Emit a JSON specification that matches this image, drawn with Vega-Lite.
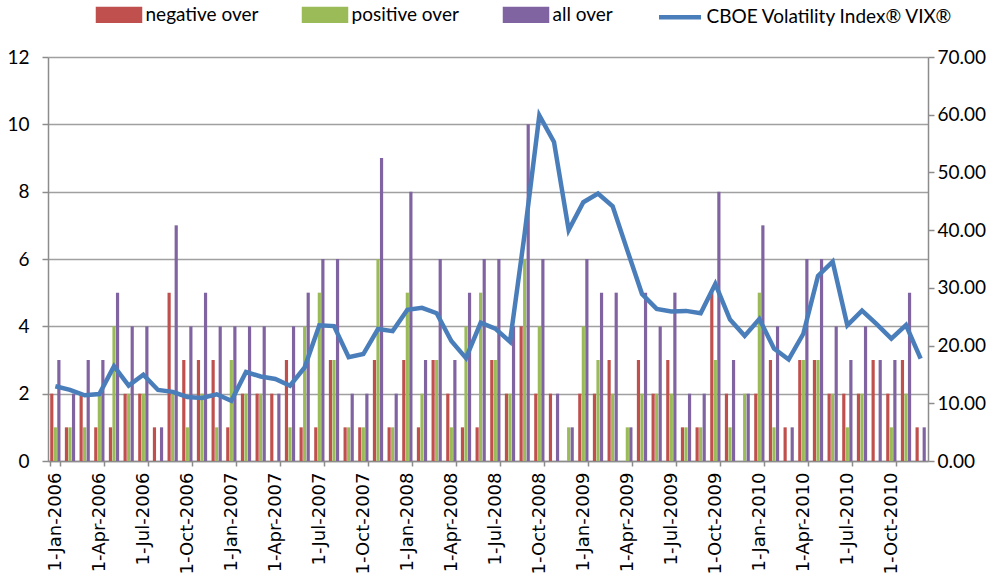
{
  "$schema": "https://vega.github.io/schema/vega-lite/v6.json",
  "width": 880,
  "height": 404,
  "autosize": "none",
  "padding": {"left": 48, "top": 57, "right": 79, "bottom": 116},
  "background": "white",
  "config": {
    "view": {"stroke": null},
    "font": "Lato"
  },
  "data": {
    "values": [
      {"month": "1-Jan-2006", "negative over": 2, "positive over": 1, "all over": 3, "vix": 12.95},
      {"month": "1-Feb-2006", "negative over": 1, "positive over": 1, "all over": 2, "vix": 12.34},
      {"month": "1-Mar-2006", "negative over": 2, "positive over": 1, "all over": 3, "vix": 11.39},
      {"month": "1-Apr-2006", "negative over": 1, "positive over": 2, "all over": 3, "vix": 11.59},
      {"month": "1-May-2006", "negative over": 1, "positive over": 4, "all over": 5, "vix": 16.44},
      {"month": "1-Jun-2006", "negative over": 2, "positive over": 2, "all over": 4, "vix": 13.08},
      {"month": "1-Jul-2006", "negative over": 2, "positive over": 2, "all over": 4, "vix": 14.95},
      {"month": "1-Aug-2006", "negative over": 1, "positive over": 0, "all over": 1, "vix": 12.31},
      {"month": "1-Sep-2006", "negative over": 5, "positive over": 2, "all over": 7, "vix": 11.98},
      {"month": "1-Oct-2006", "negative over": 3, "positive over": 1, "all over": 4, "vix": 11.10},
      {"month": "1-Nov-2006", "negative over": 3, "positive over": 2, "all over": 5, "vix": 10.91},
      {"month": "1-Dec-2006", "negative over": 3, "positive over": 1, "all over": 4, "vix": 11.56},
      {"month": "1-Jan-2007", "negative over": 1, "positive over": 3, "all over": 4, "vix": 10.42},
      {"month": "1-Feb-2007", "negative over": 2, "positive over": 2, "all over": 4, "vix": 15.42},
      {"month": "1-Mar-2007", "negative over": 2, "positive over": 2, "all over": 4, "vix": 14.64},
      {"month": "1-Apr-2007", "negative over": 2, "positive over": 0, "all over": 2, "vix": 14.22},
      {"month": "1-May-2007", "negative over": 3, "positive over": 1, "all over": 4, "vix": 13.05},
      {"month": "1-Jun-2007", "negative over": 1, "positive over": 4, "all over": 5, "vix": 16.23},
      {"month": "1-Jul-2007", "negative over": 1, "positive over": 5, "all over": 6, "vix": 23.52},
      {"month": "1-Aug-2007", "negative over": 3, "positive over": 3, "all over": 6, "vix": 23.38},
      {"month": "1-Sep-2007", "negative over": 1, "positive over": 1, "all over": 2, "vix": 18.00},
      {"month": "1-Oct-2007", "negative over": 1, "positive over": 1, "all over": 2, "vix": 18.53},
      {"month": "1-Nov-2007", "negative over": 3, "positive over": 6, "all over": 9, "vix": 22.87},
      {"month": "1-Dec-2007", "negative over": 1, "positive over": 1, "all over": 2, "vix": 22.50},
      {"month": "1-Jan-2008", "negative over": 3, "positive over": 5, "all over": 8, "vix": 26.20},
      {"month": "1-Feb-2008", "negative over": 1, "positive over": 2, "all over": 3, "vix": 26.54},
      {"month": "1-Mar-2008", "negative over": 3, "positive over": 3, "all over": 6, "vix": 25.61},
      {"month": "1-Apr-2008", "negative over": 2, "positive over": 1, "all over": 3, "vix": 20.79},
      {"month": "1-May-2008", "negative over": 1, "positive over": 4, "all over": 5, "vix": 17.83},
      {"month": "1-Jun-2008", "negative over": 1, "positive over": 5, "all over": 6, "vix": 23.95},
      {"month": "1-Jul-2008", "negative over": 3, "positive over": 3, "all over": 6, "vix": 22.94},
      {"month": "1-Aug-2008", "negative over": 2, "positive over": 2, "all over": 4, "vix": 20.65},
      {"month": "1-Sep-2008", "negative over": 4, "positive over": 6, "all over": 10, "vix": 39.39},
      {"month": "1-Oct-2008", "negative over": 2, "positive over": 4, "all over": 6, "vix": 59.89},
      {"month": "1-Nov-2008", "negative over": 2, "positive over": 0, "all over": 2, "vix": 55.28},
      {"month": "1-Dec-2008", "negative over": 0, "positive over": 1, "all over": 1, "vix": 40.00},
      {"month": "1-Jan-2009", "negative over": 2, "positive over": 4, "all over": 6, "vix": 44.84},
      {"month": "1-Feb-2009", "negative over": 2, "positive over": 3, "all over": 5, "vix": 46.35},
      {"month": "1-Mar-2009", "negative over": 3, "positive over": 2, "all over": 5, "vix": 44.14},
      {"month": "1-Apr-2009", "negative over": 0, "positive over": 1, "all over": 1, "vix": 36.50},
      {"month": "1-May-2009", "negative over": 3, "positive over": 2, "all over": 5, "vix": 28.92},
      {"month": "1-Jun-2009", "negative over": 2, "positive over": 2, "all over": 4, "vix": 26.35},
      {"month": "1-Jul-2009", "negative over": 3, "positive over": 2, "all over": 5, "vix": 25.92},
      {"month": "1-Aug-2009", "negative over": 1, "positive over": 1, "all over": 2, "vix": 26.01},
      {"month": "1-Sep-2009", "negative over": 1, "positive over": 1, "all over": 2, "vix": 25.61},
      {"month": "1-Oct-2009", "negative over": 5, "positive over": 3, "all over": 8, "vix": 30.69},
      {"month": "1-Nov-2009", "negative over": 2, "positive over": 1, "all over": 3, "vix": 24.51},
      {"month": "1-Dec-2009", "negative over": 0, "positive over": 2, "all over": 2, "vix": 21.68},
      {"month": "1-Jan-2010", "negative over": 2, "positive over": 5, "all over": 7, "vix": 24.62},
      {"month": "1-Feb-2010", "negative over": 3, "positive over": 1, "all over": 4, "vix": 19.50},
      {"month": "1-Mar-2010", "negative over": 1, "positive over": 0, "all over": 1, "vix": 17.59},
      {"month": "1-Apr-2010", "negative over": 3, "positive over": 3, "all over": 6, "vix": 22.05},
      {"month": "1-May-2010", "negative over": 3, "positive over": 3, "all over": 6, "vix": 32.07},
      {"month": "1-Jun-2010", "negative over": 2, "positive over": 2, "all over": 4, "vix": 34.54},
      {"month": "1-Jul-2010", "negative over": 2, "positive over": 1, "all over": 3, "vix": 23.50},
      {"month": "1-Aug-2010", "negative over": 2, "positive over": 2, "all over": 4, "vix": 26.05},
      {"month": "1-Sep-2010", "negative over": 3, "positive over": 0, "all over": 3, "vix": 23.70},
      {"month": "1-Oct-2010", "negative over": 2, "positive over": 1, "all over": 3, "vix": 21.20},
      {"month": "1-Nov-2010", "negative over": 3, "positive over": 2, "all over": 5, "vix": 23.54},
      {"month": "1-Dec-2010", "negative over": 1, "positive over": 0, "all over": 1, "vix": 17.75}
    ]
  },
  "layer": [
    {
      "transform": [
        {"fold": ["negative over", "positive over", "all over"], "as": ["series", "count"]}
      ],
      "mark": {"type": "bar"},
      "encoding": {
        "x": {
          "field": "month",
          "type": "ordinal",
          "sort": null,
          "scale": {"paddingInner": 0.3, "paddingOuter": 0.15},
          "axis": {
            "title": null,
            "values": ["1-Jan-2006", "1-Apr-2006", "1-Jul-2006", "1-Oct-2006", "1-Jan-2007", "1-Apr-2007", "1-Jul-2007", "1-Oct-2007", "1-Jan-2008", "1-Apr-2008", "1-Jul-2008", "1-Oct-2008", "1-Jan-2009", "1-Apr-2009", "1-Jul-2009", "1-Oct-2009", "1-Jan-2010", "1-Apr-2010", "1-Jul-2010", "1-Oct-2010"],
            "labelAngle": -90,
            "labelAlign": "right",
            "labelBaseline": "middle",
            "labelFont": "DejaVu Sans",
            "labelFontSize": 18,
            "labelColor": "#000000",
            "labelPadding": 6,
            "labelOverlap": false,
            "tickBand": "extent",
            "tickSize": 5,
            "tickColor": "#8c8c8c",
            "tickWidth": 1.5,
            "domainColor": "#8c8c8c",
            "domainWidth": 1.5,
            "grid": false
          }
        },
        "xOffset": {
          "field": "series",
          "type": "nominal",
          "sort": ["negative over", "positive over", "all over"],
          "scale": {"paddingInner": 0.1}
        },
        "y": {
          "field": "count",
          "type": "quantitative",
          "scale": {"domain": [0, 12]},
          "axis": {
            "title": null,
            "values": [0, 2, 4, 6, 8, 10, 12],
            "grid": true,
            "gridColor": "#a0a0a0",
            "gridWidth": 1.5,
            "labelFont": "Lato",
            "labelFontSize": 19,
            "labelColor": "#000000",
            "labelPadding": 13,
            "tickSize": 6,
            "tickColor": "#8c8c8c",
            "tickWidth": 1.5,
            "domainColor": "#8c8c8c",
            "domainWidth": 1.5
          }
        },
        "color": {
          "field": "series",
          "type": "nominal",
          "scale": {
            "domain": ["negative over", "positive over", "all over", "CBOE Volatility Index® VIX®"],
            "range": ["#c0504d", "#9bbb59", "#8064a2", "#4a7ebb"]
          },
          "legend": {
            "title": null,
            "orient": "none",
            "direction": "horizontal",
            "legendX": 47.5,
            "legendY": -66,
            "padding": 0,
            "labelFont": "Lato",
            "labelFontSize": 19,
            "labelColor": "#000000",
            "labelLimit": 400,
            "labelOffset": 3,
            "columnPadding": 36,
            "symbolSize": 1764,
            "symbolStrokeWidth": 4.5,
            "encode": {
              "symbols": {
                "update": {
                  "shape": {"signal": "datum.label === 'CBOE Volatility Index® VIX®' ? 'stroke' : 'M-1,-0.28H1V0.28H-1Z'"},
                  "stroke": {"signal": "datum.label === 'CBOE Volatility Index® VIX®' ? scale('color', datum.value) : 'transparent'"},
                  "strokeWidth": {"value": 4.5},
                  "fill": {"signal": "scale('color', datum.value)"},
                  "opacity": {"value": 1}
                }
              }
            }
          }
        }
      }
    },
    {
      "mark": {"type": "line", "strokeWidth": 4.5, "strokeJoin": "miter"},
      "encoding": {
        "x": {"field": "month", "type": "ordinal", "sort": null},
        "y": {
          "field": "vix",
          "type": "quantitative",
          "scale": {"domain": [0, 70]},
          "axis": {
            "orient": "right",
            "title": null,
            "values": [0, 10, 20, 30, 40, 50, 60, 70],
            "format": ".2f",
            "grid": false,
            "labelFont": "Lato",
            "labelFontSize": 19,
            "labelColor": "#000000",
            "labelPadding": 3,
            "tickSize": 6,
            "tickColor": "#8c8c8c",
            "tickWidth": 1.5,
            "domainColor": "#8c8c8c",
            "domainWidth": 1.5
          }
        },
        "color": {"datum": "CBOE Volatility Index® VIX®"}
      }
    }
  ],
  "resolve": {"scale": {"y": "independent"}}
}
